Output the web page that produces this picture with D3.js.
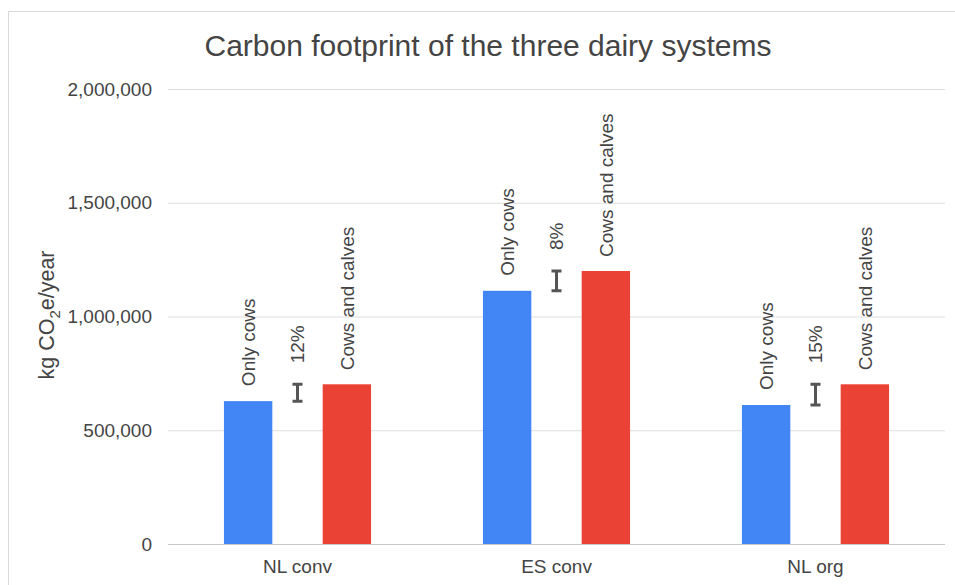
<!DOCTYPE html>
<html>
<head>
<meta charset="utf-8">
<script src="https://cdn.jsdelivr.net/npm/d3@7"></script>
<style>
  body { margin: 0; background: #fff; }
  text { font-family: "Liberation Sans", Arial, sans-serif; fill: #444; }
</style>
</head>
<body>
<div id="view"></div>
<script>
// data
const systems = ['NL conv', 'ES conv', 'NL org'];
const onlyCows = [628000, 1113000, 611000];
const cowsAndCalves = [702000, 1200000, 702000];
const increaseLabels = ['12%', '8%', '15%'];
const yTicks = [0, 500000, 1000000, 1500000, 2000000];
const seriesNames = ['Only cows', 'gap', 'Cows and calves'];

const width = 955, height = 585;
const margin = {top: 89, right: 10, bottom: 41, left: 168};

const svg = d3.select('#view')
    .append('svg')
        .attr('width', width)
        .attr('height', height);

// chart frame
svg.append('rect')
    .attr('x', 8.5).attr('y', 11.5)
    .attr('width', width + 20).attr('height', height + 20)
    .attr('fill', 'none')
    .attr('stroke', '#d9d9d9');

const x0 = d3.scaleBand()
    .domain(systems)
    .range([margin.left, 945]);

const bw = x0.bandwidth();
const x1 = d3.scaleBand()
    .domain(seriesNames)
    .range([bw * 0.216, bw * 0.784])
    .paddingInner(0.02);

const y = d3.scaleLinear()
    .domain([0, 2000000])
    .range([height - margin.bottom, margin.top]);

// gridlines + y tick labels
const yAxis = svg.append('g')
    .attr('transform', `translate(${margin.left},0)`)
    .call(d3.axisLeft(y).tickValues(yTicks).tickSize(-(945 - margin.left)).tickPadding(16).tickFormat(d3.format(',')));
yAxis.select('.domain').remove();
yAxis.selectAll('.tick line').attr('stroke', d => d === 0 ? '#c8c8c8' : '#dedede');
yAxis.selectAll('.tick text')
    .attr('font-size', 19)
    .attr('fill', '#5a5a5a')
    .style('font-family', '"Liberation Sans", Arial, sans-serif');

// x axis labels
const xAxis = svg.append('g')
    .attr('transform', `translate(0,${height - margin.bottom})`)
    .call(d3.axisBottom(x0).tickSize(0).tickPadding(16));
xAxis.select('.domain').remove();
xAxis.selectAll('.tick text')
    .attr('font-size', 19)
    .attr('fill', '#4a4a4a')
    .style('font-family', '"Liberation Sans", Arial, sans-serif');

// bars
const rows = systems.map((s, i) => ({system: s, a: onlyCows[i], b: cowsAndCalves[i], pct: increaseLabels[i]}));

const groups = svg.selectAll('.grp')
    .data(rows)
    .join('g')
        .attr('class', 'grp')
        .attr('transform', d => `translate(${x0(d.system)},0)`);

groups.append('rect')
    .attr('x', x1('Only cows'))
    .attr('width', x1.bandwidth())
    .attr('y', d => y(d.a))
    .attr('height', d => y(0) - y(d.a))
    .attr('fill', '#4285F4');

groups.append('rect')
    .attr('x', x1('Cows and calves'))
    .attr('width', x1.bandwidth())
    .attr('y', d => y(d.b))
    .attr('height', d => y(0) - y(d.b))
    .attr('fill', '#EA4335');

// difference "error bar"
const cx = x1('gap') + x1.bandwidth() / 2;
const capW = 5;
groups.append('path')
    .attr('d', d => `M${cx},${y(d.b)}V${y(d.a)}M${cx - capW},${y(d.b)}H${cx + capW}M${cx - capW},${y(d.a)}H${cx + capW}`)
    .attr('stroke', '#555')
    .attr('stroke-width', 3)
    .attr('fill', 'none');

// rotated labels
function vLabel(g, xPos, yVal, txt, off) {
    g.append('text')
        .attr('transform', d => `translate(${xPos},${y(yVal(d)) - off}) rotate(-90)`)
        .attr('dy', '0.35em')
        .attr('font-size', 19)
        .text(txt);
}
vLabel(groups, x1('Only cows') + x1.bandwidth() / 2, d => d.a, 'Only cows', 15);
vLabel(groups, x1('Cows and calves') + x1.bandwidth() / 2, d => d.b, 'Cows and calves', 14);
vLabel(groups, cx, d => d.b, d => d.pct, 21);

// title
svg.append('text')
    .attr('x', 488).attr('y', 56)
    .attr('text-anchor', 'middle')
    .attr('font-size', 30)
    .text('Carbon footprint of the three dairy systems');

// y axis title
const yt = svg.append('text')
    .attr('transform', `translate(54,315) rotate(-90)`)
    .attr('text-anchor', 'middle')
    .attr('font-size', 21.5);
yt.append('tspan').text('kg CO');
yt.append('tspan').attr('font-size', 15).attr('dy', 6).text('2');
yt.append('tspan').attr('dy', -6).text('e/year');
</script>
</body>
</html>
